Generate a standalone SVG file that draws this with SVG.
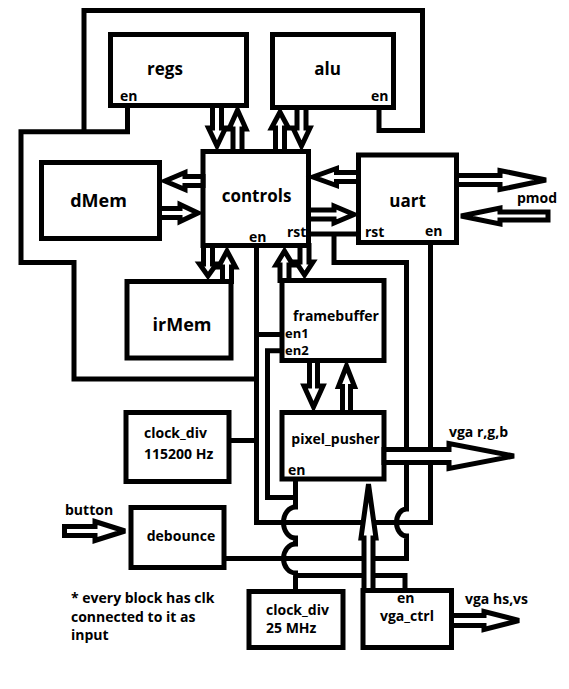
<svg xmlns="http://www.w3.org/2000/svg" width="569" height="689" viewBox="0 0 569 689">
<style>
.b{fill:#fff;stroke:#000;stroke-width:5}
.w{fill:none;stroke:#000;stroke-width:5;stroke-linejoin:miter}
.a{fill:#fff;stroke:#000;stroke-width:5;stroke-linejoin:miter;stroke-miterlimit:3}
text{font-family:"Open Sans","DejaVu Sans",sans-serif;font-weight:bold;fill:#000}
.t{font-size:17px;text-anchor:middle}
.m{font-size:14px;text-anchor:middle}
.s{font-size:14px}
.e{font-size:13px}
</style>
<rect width="569" height="689" fill="#fff"/>
<g id="regs"><rect class="b" x="110.5" y="34.5" width="136" height="71"/><text class="t" x="165" y="75">regs</text><text class="s" x="120" y="101">en</text></g>
<g id="alu"><rect class="b" x="272.5" y="34.5" width="121" height="73"/><text class="t" x="327.5" y="75">alu</text><text class="s" x="371" y="101">en</text></g>
<g id="controls"><rect class="b" x="203" y="151.5" width="105.5" height="94"/><text class="t" x="256.5" y="202">controls</text><text class="s" x="249" y="241.5">en</text><text class="s" x="287" y="237">rst</text></g>
<g id="dMem"><rect class="b" x="41.5" y="162.5" width="118" height="76"/><text class="t" x="98.5" y="207" style="font-size:18px">dMem</text></g>
<g id="uart"><rect class="b" x="358.5" y="155" width="98" height="87.5"/><text class="t" x="407.5" y="206.5">uart</text><text class="s" x="365" y="237">rst</text><text class="s" x="425" y="236">en</text></g>
<g id="irMem"><rect class="b" x="127" y="281.5" width="104" height="76.5"/><text class="t" x="182" y="330.5" style="font-size:18px">irMem</text></g>
<g id="framebuffer"><rect class="b" x="282" y="280.5" width="102" height="80"/><text class="m" x="336" y="321">framebuffer</text><text class="e" x="285" y="337.5">en1</text><text class="e" x="285" y="355">en2</text></g>
<g id="pixel_pusher"><rect class="b" x="282" y="412.5" width="102" height="66.5"/><text class="m" x="335.5" y="444">pixel_pusher</text><text class="s" x="288" y="475">en</text></g>
<g id="clock_div_115200"><rect class="b" x="126" y="412.5" width="103" height="69"/><text class="s" x="144" y="438">clock_div</text><text class="s" x="144" y="459">115200 Hz</text></g>
<g id="debounce"><rect class="b" x="131" y="507.5" width="93" height="60"/><text class="m" x="181" y="540.5">debounce</text></g>
<g id="clock_div_25"><rect class="b" x="249" y="591.5" width="94" height="56"/><text class="s" x="266" y="615">clock_div</text><text class="s" x="266" y="633">25 MHz</text></g>
<g id="vga_ctrl"><rect class="b" x="363" y="590.5" width="88.5" height="57"/><text class="s" x="397" y="603">en</text><text class="m" x="407" y="621">vga_ctrl</text></g>
<g id="connectors">
<path class="w" d="M308.5,234H358.5M334,234V262.5H406.5V509A10,13.5 0 0 0 406.5,536V558.5H224"/>
<path class="w" d="M256.5,245.5V522.5H430.5V242.5M256.5,379H74V262.5H21V131.8H127.5V105.5M84,131.8V10.5H422.5V130.5H379V107.5M256.5,334.5H282M229,440.5H256.5"/>
<path class="w" d="M295.5,479V507A12,15.5 0 0 0 295.5,538V544A12,14.5 0 0 0 295.5,573V591.5M295.5,575.5H405V590.5M282,350.8H267.5V497.5H295.5"/>
<polygon class="a" points="212.5,105.5 212.5,128 208.5,128 217,146 225.5,128 221.5,128 221.5,105.5"/>
<polygon class="a" points="233,151.5 233,129 229,129 237.5,110 246,129 242,129 242,151.5"/>
<polygon class="a" points="275.5,151.5 275.5,128 271.5,128 280,112 288.5,128 284.5,128 284.5,151.5"/>
<polygon class="a" points="297,107.5 297,128 293,128 301.5,146 310,128 306,128 306,107.5"/>
<polygon class="a" points="203,176.5 185,176.5 185,172.5 165,181 185,189.5 185,185.5 203,185.5"/>
<polygon class="a" points="159.5,208.5 180,208.5 180,204.5 198,213 180,221.5 180,217.5 159.5,217.5"/>
<polygon class="a" points="358.5,172.5 336.5,172.5 336.5,168.5 313,177 336.5,185.5 336.5,181.5 358.5,181.5"/>
<polygon class="a" points="308.5,210 334,210 334,206 354,214.5 334,223 334,219 308.5,219"/>
<polygon class="a" points="203.5,245.5 203.5,264 199.5,264 208,276 216.5,264 212.5,264 212.5,245.5"/>
<polygon class="a" points="222.5,281.5 222.5,267 218.5,267 227,251 235.5,267 231.5,267 231.5,281.5"/>
<polygon class="a" points="280,280.5 280,265 276,265 284.5,251 293,265 289,265 289,280.5"/>
<polygon class="a" points="300,245.5 300,262 296,262 304.5,275 313,262 309,262 309,245.5"/>
<polygon class="a" points="309.5,360.5 309.5,386 304,386 313.5,407 323,386 317.5,386 317.5,360.5"/>
<polygon class="a" points="342.5,412.5 342.5,386.5 338.5,386.5 346.5,366 354.5,386.5 350.5,386.5 350.5,412.5"/>
<polygon class="a" points="456.5,175.5 500,175.5 500,170.5 546,180 500,189.5 500,184.5 456.5,184.5"/>
<polygon class="a" points="548,212 500,212 500,208 461,216 500,224 500,220 548,220"/>
<polygon class="a" points="384,449.5 449,449.5 449,443.5 514,456 449,468.5 449,462.5 384,462.5"/>
<polygon class="a" points="64.5,526.5 95,526.5 95,521.5 125,531 95,540.5 95,535.5 64.5,535.5"/>
<polygon class="a" points="451.5,615.5 484,615.5 484,611.5 519,620.5 484,629.5 484,625.5 451.5,625.5"/>
<polygon class="a" points="364,590.5 364,538 361,538 368.5,484 376,538 373,538 373,590.5"/>
</g>
<g id="labels">
<text class="s" x="517" y="203">pmod</text>
<text class="s" x="449" y="437">vga r,g,b</text>
<text class="s" x="465" y="604">vga hs,vs</text>
<text class="s" x="65" y="515">button</text>
<text class="s" x="71" y="603">* every block has clk</text>
<text class="s" x="71" y="622">connected to it as</text>
<text class="s" x="71" y="640">input</text>
</g>
</svg>
